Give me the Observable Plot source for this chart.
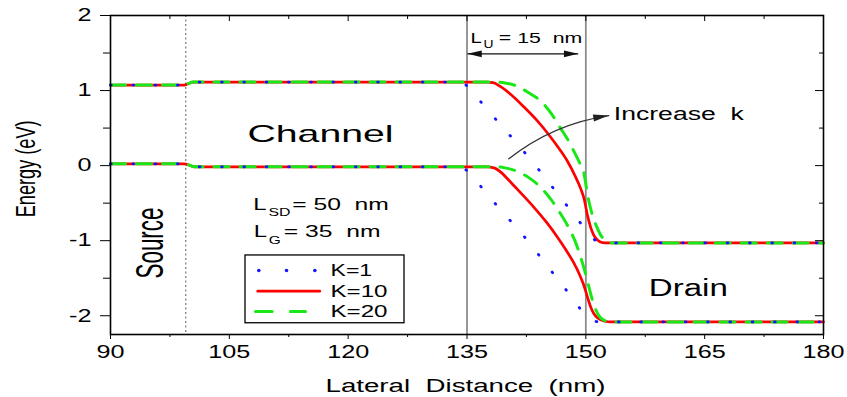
<!DOCTYPE html>
<html><head><meta charset="utf-8">
<script src="https://cdn.jsdelivr.net/npm/d3@7"></script>
<script src="https://cdn.jsdelivr.net/npm/@observablehq/plot@0.6"></script>
<style>
body{margin:0;background:#fff;}
#chart svg text{white-space:pre;}
</style></head><body><div id="chart"></div>
<script>
// ---- axes ----
const xTicks = [90,105,120,135,150,165,180];
const xMinor = [97.5,112.5,127.5,142.5,157.5,172.5];
const yTicks = [-2,-1,0,1,2];
const yMinor = [-1.5,-0.5,0.5,1.5];

// ---- shared source region ----
const srcUpX = [90, 99.3, 99.8, 100.4];
const srcUpY = [1.073, 1.073, 1.09, 1.113];
const srcLoX = [90, 99.3, 100.0, 100.6];
const srcLoY = [0.024, 0.024, 0.004, -0.016];

// ---- K=1 ----
const k1UpX = [134.0, 134.8, 135.45, 137.55, 139.4, 141.3, 143.0, 144.8, 146.5, 148.2, 149.8, 150.7, 151.45, 152.2, 180];
const k1UpY = [1.113, 1.08, 1.0, 0.755, 0.52, 0.30, 0.08, -0.15, -0.385, -0.61, -0.83, -0.95, -1.01, -1.03, -1.03];
const k1LoX = [134.3, 134.9, 135.7, 137.6, 139.4, 141.3, 143.1, 144.8, 146.5, 148.2, 149.8, 150.8, 151.7, 180];
const k1LoY = [-0.016, -0.06, -0.15, -0.385, -0.61, -0.83, -1.06, -1.29, -1.52, -1.75, -1.97, -2.055, -2.083, -2.083];

// ---- K=10 ----
const k10UpX = [137.5, 138.3, 139.2, 140.5, 142.2, 143.8, 145.3, 146.5, 147.7, 148.7, 149.4, 149.8, 150.2, 150.6, 151.0, 151.5, 152.1, 152.8, 180];
const k10UpY = [1.113, 1.105, 1.055, 0.95, 0.78, 0.605, 0.415, 0.245, 0.055, -0.15, -0.32, -0.45, -0.66, -0.82, -0.925, -0.995, -1.025, -1.03, -1.03];
const k10LoX = [137.5, 138.4, 139.3, 140.1, 140.9, 142.2, 143.45, 145.0, 146.4, 147.5, 148.5, 149.2, 149.8, 150.2, 150.6, 151.0, 151.5, 152.1, 152.8, 153.3, 180];
const k10LoY = [-0.016, -0.03, -0.09, -0.175, -0.265, -0.41, -0.555, -0.75, -0.95, -1.125, -1.30, -1.45, -1.61, -1.75, -1.88, -1.97, -2.03, -2.065, -2.08, -2.083, -2.083];

// ---- K=20 ----
const k20UpX = [138.6, 139.8, 141.3, 142.8, 144.3, 145.6, 146.8, 147.7, 148.5, 149.2, 149.8, 150.2, 150.8, 151.4, 151.9, 152.3, 152.7, 153.3, 180];
const k20UpY = [1.113, 1.10, 1.06, 0.97, 0.86, 0.70, 0.50, 0.35, 0.19, 0.04, -0.12, -0.38, -0.65, -0.82, -0.93, -0.98, -1.01, -1.03, -1.03];
const k20LoX = [138.6, 139.8, 141.3, 142.8, 144.3, 145.6, 146.8, 147.7, 148.5, 149.2, 149.8, 150.3, 150.8, 151.3, 151.8, 152.4, 153.1, 180];
const k20LoY = [-0.016, -0.03, -0.075, -0.16, -0.29, -0.45, -0.64, -0.80, -0.97, -1.17, -1.38, -1.58, -1.78, -1.93, -2.02, -2.065, -2.083, -2.083];

// ---- legend / annotations ----
const seriesNames = ["K=1", "K=10", "K=20"];
const seriesColors = ["#1414ff", "#ff0000", "#18e818"];
const legendBox = {x1: 107.04, x2: 127.11, y1: -1.197, y2: -2.10};
const legendDotsX = [108.72, 112.22, 115.79];
const legendRowY = [-1.397, -1.673, -1.944];
const legendLineX = [[108.59, 116.41], [108.30, 114.61]];
const legendTextX = 117.77;
const legendTextY = [-1.473, -1.744, -2.02];
const vLines = [135, 150];
const dotLine = [99.5];
const luArrow = {x1: 135.06, x2: 149.04, y: 1.489};
const incArrow = {x1: 140.28, y1: 0.0906, x2: 152.9, y2: 0.667};

const texts = [
  {text: "Channel", x: 116.51, y: 0.321, size: 24, anchor: "middle", rotate: 0, len: 146},
  {text: "Drain", x: 162.94, y: -1.731, size: 23, anchor: "middle", rotate: 0, len: 79},
  {text: "Source", x: 96.69, y: -1.031, size: 38, anchor: "middle", rotate: -90, len: 71},
  {text: "Energy (eV)", x: 80.53, y: -0.043, size: 28, anchor: "middle", rotate: -90, len: 97},
  {text: "Lateral  Distance  (nm)", x: 134.81, y: -3.019, size: 18, anchor: "middle", rotate: 0, len: 280},
  {text: "L", x: 108.01, y: -0.585, size: 17, anchor: "start", rotate: 0},
  {text: "SD", x: 109.94, y: -0.665, size: 11, anchor: "start", rotate: 0, len: 22},
  {text: "= 50  nm", x: 112.94, y: -0.585, size: 17, anchor: "start", rotate: 0, len: 96.6},
  {text: "L", x: 108.09, y: -0.954, size: 17, anchor: "start", rotate: 0},
  {text: "G", x: 109.98, y: -1.038, size: 11, anchor: "start", rotate: 0, len: 12},
  {text: "= 35  nm", x: 111.88, y: -0.954, size: 17, anchor: "start", rotate: 0, len: 96.7},
  {text: "L", x: 135.44, y: 1.631, size: 14.5, anchor: "start", rotate: 0},
  {text: "U", x: 137.08, y: 1.567, size: 10, anchor: "start", rotate: 0, len: 10},
  {text: "= 15  nm", x: 139.02, y: 1.631, size: 14.5, anchor: "start", rotate: 0, len: 83.4},
  {text: "Increase  k", x: 153.53, y: 0.610, size: 17.5, anchor: "start", rotate: 0, len: 130},
  {text: "K=1", x: legendTextX, y: legendTextY[0], size: 16, anchor: "start", rotate: 0, len: 41.7},
  {text: "K=10", x: legendTextX, y: legendTextY[1], size: 16, anchor: "start", rotate: 0, len: 57},
  {text: "K=20", x: legendTextX, y: legendTextY[2], size: 16, anchor: "start", rotate: 0, len: 57}
];

// ---- build rows ----
function rows(k, band, xs, ys) { return xs.map((x, i) => ({k, band, x, y: ys[i]})); }
const k1 = [...rows("K=1","up",[...srcUpX,...k1UpX],[...srcUpY,...k1UpY]), ...rows("K=1","lo",[...srcLoX,...k1LoX],[...srcLoY,...k1LoY])];
const k10 = [...rows("K=10","up",[...srcUpX,...k10UpX],[...srcUpY,...k10UpY]), ...rows("K=10","lo",[...srcLoX,...k10LoX],[...srcLoY,...k10LoY])];
const k20 = [...rows("K=20","up",[...srcUpX,...k20UpX],[...srcUpY,...k20UpY]), ...rows("K=20","lo",[...srcLoX,...k20LoX],[...srcLoY,...k20LoY])];

const headSymbol = {draw(ctx, size) {
  const r = Math.sqrt(size / Math.PI);
  ctx.moveTo(0, 0); ctx.lineTo(-2.6 * r, -0.6 * r); ctx.lineTo(-2.6 * r, 0.6 * r); ctx.closePath();
}};

const plot = Plot.plot({
  width: 847, height: 397,
  marginLeft: 110, marginRight: 24, marginTop: 15, marginBottom: 63,
  style: {fontFamily: "'Liberation Sans', Arial, sans-serif", color: "#000", background: "#fff", overflow: "visible"},
  x: {domain: [90, 180], label: null},
  y: {domain: [-2.25, 2], label: null},
  marks: [
    Plot.ruleX(vLines, {stroke: "#8c8c8c", strokeWidth: 1.8}),
    Plot.ruleX(dotLine, {stroke: "#777", strokeWidth: 1.2, strokeDasharray: "2,2.5"}),
    Plot.line(k10, {x: "x", y: "y", z: "band", stroke: seriesColors[1], strokeWidth: 2.7, curve: "monotone-x"}),
    Plot.line(k20, {x: "x", y: "y", z: "band", stroke: seriesColors[2], strokeWidth: 3, strokeDasharray: "15,11", curve: "monotone-x"}),
    Plot.line(k1, {x: "x", y: "y", z: "band", stroke: seriesColors[0], strokeWidth: 2.8, strokeDasharray: "0.8,21.5", strokeLinecap: "round", curve: "monotone-x"}),
    // axes
    Plot.axisX({ticks: xTicks, tickSize: 5, tickPadding: 6, fontSize: 18, tickFormat: d => String(d), label: null}),
    Plot.axisX({ticks: xMinor, tickSize: 3, fill: "none", label: null}),
    Plot.axisX({anchor: "top", ticks: xTicks, tickSize: 5, dy: 5, fill: "none", label: null}),
    Plot.axisX({anchor: "top", ticks: xMinor, tickSize: 3, dy: 3, fill: "none", label: null}),
    Plot.axisY({ticks: yTicks, tickSize: 10, tickPadding: 9, fontSize: 18, tickFormat: d => String(d), label: null}),
    Plot.axisY({ticks: yMinor, tickSize: 7, fill: "none", label: null}),
    Plot.axisY({anchor: "right", ticks: yTicks, tickSize: 9, dx: -9, fill: "none", label: null}),
    Plot.axisY({anchor: "right", ticks: yMinor, tickSize: 5, dx: -5, fill: "none", label: null}),
    Plot.frame({stroke: "#000", strokeWidth: 1.6}),
    // L_U arrow
    Plot.link([luArrow], {x1: "x1", x2: "x2", y1: "y", y2: "y", stroke: "#111", strokeWidth: 1.3}),
    Plot.dot([luArrow], {x: "x2", y: "y", symbol: headSymbol, r: 5.5, fill: "#111", stroke: "none", rotate: 0}),
    Plot.dot([luArrow], {x: "x1", y: "y", symbol: headSymbol, r: 5.5, fill: "#111", stroke: "none", rotate: 180}),
    // increase k arrow
    Plot.arrow([incArrow], {x1: "x1", y1: "y1", x2: "x2", y2: "y2", bend: 15, headLength: 0, stroke: "#333", strokeWidth: 1.3}),
    Plot.dot([incArrow], {x: "x2", y: "y2", symbol: headSymbol, r: 6, fill: "#222", stroke: "none", rotate: -9}),
    // legend
    Plot.rect([legendBox], {x1: "x1", x2: "x2", y1: "y1", y2: "y2", fill: "#fff", stroke: "#000", strokeWidth: 1.3}),
    Plot.dot(legendDotsX, {x: d => d, y: legendRowY[0], r: 1.8, fill: seriesColors[0], stroke: "none"}),
    Plot.line(legendLineX[0], {x: d => d, y: legendRowY[1], stroke: seriesColors[1], strokeWidth: 2.7}),
    Plot.line(legendLineX[1], {x: d => d, y: legendRowY[2], stroke: seriesColors[2], strokeWidth: 3, strokeDasharray: "16.7,18.3"}),
    // texts
    ...texts.map(t => Plot.text([t], {x: "x", y: "y", text: "text", fontSize: t.size, textAnchor: t.anchor, lineAnchor: "bottom", rotate: t.rotate, fill: "#000"}))
  ]
});
document.getElementById("chart").append(plot);

// horizontal stretch of the lettering, as in the reference
const lens = new Map(texts.filter(t => t.len).map(t => [t.text, t.len]));
d3.select(plot).selectAll("text").each(function () {
  const w = this.getComputedTextLength();
  if (!w) return;
  const t = this.textContent;
  const L = lens.has(t) ? lens.get(t) : w * 1.4;
  this.setAttribute("textLength", L);
  this.setAttribute("lengthAdjust", "spacingAndGlyphs");
});
</script></body></html>
